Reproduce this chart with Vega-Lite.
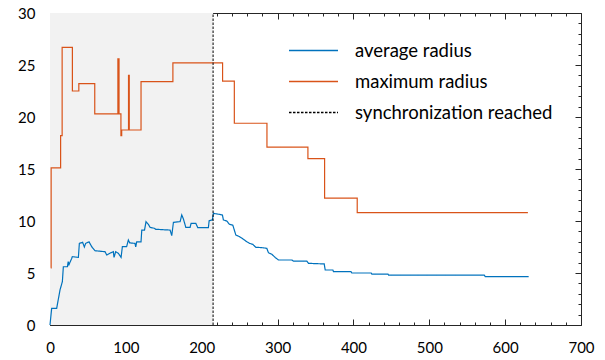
{
  "$schema": "https://vega.github.io/schema/vega-lite/v6.json",
  "width": 531,
  "height": 312,
  "autosize": {"type": "none"},
  "padding": {"left": 50, "top": 13, "right": 24, "bottom": 35},
  "background": "white",
  "config": {"view": {"stroke": "#262626", "strokeWidth": 1}, "font": "Lato"},
  "datasets": {
    "shade": [{"x0": 0, "x1": 215}],
    "sync": [{"x": 215}],
    "avg": [
      {"x": 0, "y": 0}, {"x": 2.2, "y": 1.6}, {"x": 8.8, "y": 1.6}, {"x": 13.2, "y": 3.37}, {"x": 16.3, "y": 4.17},
      {"x": 17.6, "y": 5.6}, {"x": 22.9, "y": 5.6}, {"x": 24, "y": 6.1}, {"x": 25, "y": 5.8}, {"x": 28.6, "y": 6.4},
      {"x": 29.4, "y": 6.57}, {"x": 37.4, "y": 6.5}, {"x": 38.7, "y": 7.85}, {"x": 43, "y": 7.95}, {"x": 45.3, "y": 7.5},
      {"x": 47, "y": 7.85}, {"x": 51.4, "y": 8.0}, {"x": 55, "y": 7.53}, {"x": 59.4, "y": 7.14}, {"x": 72.5, "y": 7.05},
      {"x": 74.8, "y": 6.73}, {"x": 79, "y": 6.9}, {"x": 83.5, "y": 7.05}, {"x": 84.4, "y": 6.5}, {"x": 86.6, "y": 7.05},
      {"x": 90, "y": 6.9}, {"x": 93.7, "y": 6.5}, {"x": 95.4, "y": 7.53}, {"x": 101, "y": 7.53}, {"x": 103.3, "y": 8.17},
      {"x": 105, "y": 7.9}, {"x": 112, "y": 7.85}, {"x": 113, "y": 7.5}, {"x": 114.3, "y": 8.0}, {"x": 120, "y": 8.0},
      {"x": 121, "y": 9.13}, {"x": 124.6, "y": 9.13}, {"x": 126.6, "y": 9.94}, {"x": 129.7, "y": 9.68}, {"x": 131.9, "y": 9.39},
      {"x": 137.6, "y": 9.3}, {"x": 139.4, "y": 9.2}, {"x": 158.3, "y": 9.13}, {"x": 160.5, "y": 8.6}, {"x": 162.7, "y": 9.87},
      {"x": 171.5, "y": 9.94}, {"x": 173.7, "y": 10.58}, {"x": 175.9, "y": 10.19}, {"x": 179, "y": 9.39}, {"x": 184.7, "y": 9.39},
      {"x": 186, "y": 9.78}, {"x": 192.2, "y": 9.78}, {"x": 194.8, "y": 9.36}, {"x": 208.8, "y": 9.36}, {"x": 209.8, "y": 10.03},
      {"x": 214, "y": 10.1}, {"x": 215.4, "y": 10.74}, {"x": 220.7, "y": 10.67}, {"x": 227.3, "y": 10.58}, {"x": 228.6, "y": 10.1},
      {"x": 233, "y": 10.0}, {"x": 236.6, "y": 9.68}, {"x": 241, "y": 9.6}, {"x": 245, "y": 8.65}, {"x": 249.7, "y": 8.5},
      {"x": 255, "y": 8.24}, {"x": 259.5, "y": 8.0}, {"x": 263, "y": 7.85}, {"x": 267.4, "y": 7.75}, {"x": 271.3, "y": 7.47},
      {"x": 279.2, "y": 7.44}, {"x": 285.8, "y": 7.37}, {"x": 288, "y": 6.95}, {"x": 292.4, "y": 6.8}, {"x": 296.8, "y": 6.5},
      {"x": 301.2, "y": 6.25}, {"x": 318.8, "y": 6.25}, {"x": 321, "y": 6.15}, {"x": 338.6, "y": 6.15}, {"x": 340.8, "y": 5.93},
      {"x": 361.5, "y": 5.87}, {"x": 362.8, "y": 5.29}, {"x": 372.9, "y": 5.29}, {"x": 373.7, "y": 5.13}, {"x": 396.7, "y": 5.13},
      {"x": 398, "y": 5.0}, {"x": 423.4, "y": 5.0}, {"x": 424.3, "y": 4.9}, {"x": 445.5, "y": 4.9}, {"x": 446.3, "y": 4.8},
      {"x": 572.5, "y": 4.8}, {"x": 573.8, "y": 4.65}, {"x": 631, "y": 4.65}
    ],
    "max": [
      {"x": 1, "y": 5.5}, {"x": 1.5, "y": 15.1}, {"x": 14, "y": 18.2}, {"x": 16, "y": 26.7}, {"x": 29.5, "y": 22.5},
      {"x": 38, "y": 23.2}, {"x": 59, "y": 20.3}, {"x": 89.5, "y": 25.6}, {"x": 91, "y": 20.3}, {"x": 93.5, "y": 18.2},
      {"x": 94.5, "y": 18.75}, {"x": 103.5, "y": 24.0}, {"x": 104.5, "y": 18.75}, {"x": 120, "y": 23.4}, {"x": 162, "y": 25.2},
      {"x": 227.5, "y": 23.45}, {"x": 243, "y": 19.4}, {"x": 286, "y": 17.1}, {"x": 340, "y": 16.0}, {"x": 362, "y": 12.2},
      {"x": 405, "y": 10.8}, {"x": 630, "y": 10.8}
    ]
  },
  "layer": [
    {
      "data": {"name": "shade"},
      "mark": {"type": "rect", "fill": "#f2f2f2"},
      "encoding": {
        "x": {"field": "x0", "type": "quantitative", "scale": {"domain": [0, 700], "nice": false, "zero": false},
          "axis": {"orient": "bottom", "title": null, "domain": false, "grid": false,
            "values": [0,100,200,300,400,500,600,700], "offset": -6, "tickSize": 6,
            "tickColor": "#262626", "labelFont": "Lato", "labelFontSize": 15, "labelColor": "#000000",
            "labelPadding": 15, "labelFlush": false, "labelBound": false, "labelOverlap": false}},
        "x2": {"field": "x1"},
        "y": {"datum": 0, "type": "quantitative", "scale": {"domain": [0, 30], "nice": false},
          "axis": {"orient": "left", "title": null, "domain": false, "grid": false,
            "values": [0,5,10,15,20,25,30], "offset": -6, "tickSize": 6,
            "tickColor": "#262626", "labelFont": "Lato", "labelFontSize": 15, "labelColor": "#000000",
            "labelPadding": 15, "labelFlush": false, "labelBound": false, "labelOverlap": false}},
        "y2": {"datum": 30}
      }
    },
    {
      "data": {"name": "avg"},
      "mark": {"type": "line", "strokeWidth": 1.2, "interpolate": "linear"},
      "encoding": {
        "x": {"field": "x", "type": "quantitative",
          "axis": {"orient": "bottom", "title": null, "domain": false, "grid": false, "labels": false,
            "values": [20,40,60,80,120,140,160,180,220,240,260,280,320,340,360,380,420,440,460,480,520,540,560,580,620,640,660,680],
            "offset": -3, "tickSize": 3, "tickColor": "#262626"}},
        "y": {"field": "y", "type": "quantitative",
          "axis": {"orient": "left", "title": null, "domain": false, "grid": false, "labels": false,
            "values": [1,2,3,4,6,7,8,9,11,12,13,14,16,17,18,19,21,22,23,24,26,27,28,29],
            "offset": -3, "tickSize": 3, "tickColor": "#262626"}},
        "color": {"datum": "average radius", "type": "nominal",
          "scale": {"domain": ["average radius", "maximum radius", "synchronization reached"], "range": ["#0072BD", "#D95319", "#000000"]},
          "legend": {"orient": "none", "legendX": 244, "legendY": 18, "title": null, "symbolType": "M-1.324,0H1.324", "symbolSize": 1370,
            "symbolStrokeWidth": 1.5, "labelFont": "Lato", "labelFontSize": 18.5, "labelColor": "#000000", "labelOffset": 22, "labelLimit": 400, "padding": 0, "rowPadding": 2}},
        "strokeDash": {"datum": "average radius", "type": "nominal",
          "scale": {"domain": ["average radius", "maximum radius", "synchronization reached"], "range": [[1, 0], [1, 0], [2.5, 1.5]]},
          "legend": {"orient": "none", "legendX": 244, "legendY": 18, "title": null, "symbolType": "M-1.324,0H1.324", "symbolSize": 1370,
            "symbolStrokeWidth": 1.5, "labelFont": "Lato", "labelFontSize": 18.5, "labelColor": "#000000", "labelOffset": 22, "labelLimit": 400, "padding": 0, "rowPadding": 2}}
      }
    },
    {
      "data": {"name": "max"},
      "mark": {"type": "line", "strokeWidth": 1.2, "interpolate": "step-after"},
      "encoding": {
        "x": {"field": "x", "type": "quantitative",
          "axis": {"orient": "top", "title": null, "domain": false, "grid": false, "labels": false,
            "values": [0,100,200,300,400,500,600,700], "offset": -6, "tickSize": 6, "tickColor": "#262626"}},
        "y": {"field": "y", "type": "quantitative",
          "axis": {"orient": "right", "title": null, "domain": false, "grid": false, "labels": false,
            "values": [0,5,10,15,20,25,30], "offset": -6, "tickSize": 6, "tickColor": "#262626"}},
        "color": {"datum": "maximum radius", "type": "nominal"},
        "strokeDash": {"datum": "maximum radius", "type": "nominal"}
      }
    },
    {
      "data": {"name": "sync"},
      "mark": {"type": "rule", "strokeWidth": 1},
      "encoding": {
        "x": {"field": "x", "type": "quantitative",
          "axis": {"orient": "top", "title": null, "domain": false, "grid": false, "labels": false,
            "values": [20,40,60,80,120,140,160,180,220,240,260,280,320,340,360,380,420,440,460,480,520,540,560,580,620,640,660,680],
            "offset": -3, "tickSize": 3, "tickColor": "#262626"}},
        "y": {"datum": 0, "type": "quantitative",
          "axis": {"orient": "right", "title": null, "domain": false, "grid": false, "labels": false,
            "values": [1,2,3,4,6,7,8,9,11,12,13,14,16,17,18,19,21,22,23,24,26,27,28,29],
            "offset": -3, "tickSize": 3, "tickColor": "#262626"}},
        "y2": {"datum": 30},
        "color": {"datum": "synchronization reached", "type": "nominal"},
        "strokeDash": {"datum": "synchronization reached", "type": "nominal"}
      }
    }
  ],
  "resolve": {"axis": {"x": "independent", "y": "independent"}}
}
